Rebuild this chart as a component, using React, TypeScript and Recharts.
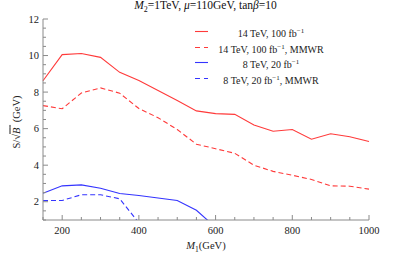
import React from "react"
import { LineChart, Line, XAxis, YAxis } from "recharts"

const masses = [150, 200, 250, 300, 350, 400, 450, 500, 550, 600, 650, 700, 750, 800, 850, 900, 950, 1000]
const lhc14 = [8.62, 10.05, 10.11, 9.9, 9.08, 8.63, 8.09, 7.54, 6.97, 6.82, 6.78, 6.2, 5.86, 5.95, 5.42, 5.72, 5.56, 5.3]
const lhc14Mmwr = [7.26, 7.09, 7.95, 8.23, 7.94, 7.1, 6.6, 5.95, 5.15, 4.9, 4.65, 4.0, 3.66, 3.45, 3.22, 2.87, 2.85, 2.69]
const lhc8 = [2.47, 2.87, 2.92, 2.74, 2.45, 2.34, 2.2, 2.07, 1.53, 0.6, null, null, null, null, null, null, null, null]
const lhc8Mmwr = [2.07, 2.07, 2.38, 2.38, 2.16, 0.84, null, null, null, null, null, null, null, null, null, null, null, null]

const xTicks = [150, 200, 250, 300, 350, 400, 450, 500, 550, 600, 650, 700, 750, 800, 850, 900, 950, 1000]
const yTicks = [1, 1.5, 2, 2.5, 3, 3.5, 4, 4.5, 5, 5.5, 6, 6.5, 7, 7.5, 8, 8.5, 9, 9.5, 10, 10.5, 11, 11.5, 12]

const RED = "#ff3a3a"
const BLUE = "#3434ff"
const FRAME = "#8a8a8a"
const FONT = "'Liberation Serif', 'DejaVu Serif', serif"

const series = [
  { key: "lhc14", energy: "14 TeV, 100 fb", extra: "", color: RED, dash: undefined },
  { key: "lhc14Mmwr", energy: "14 TeV, 100 fb", extra: ", MMWR", color: RED, dash: "5 3" },
  { key: "lhc8", energy: "8 TeV, 20 fb", extra: "", color: BLUE, dash: undefined },
  { key: "lhc8Mmwr", energy: "8 TeV, 20 fb", extra: ", MMWR", color: BLUE, dash: "5 3" },
]

const data = masses.map((m, i) => ({
  m,
  lhc14: lhc14[i],
  lhc14Mmwr: lhc14Mmwr[i],
  lhc8: lhc8[i],
  lhc8Mmwr: lhc8Mmwr[i],
}))

const labelStyle = { fontFamily: FONT, fontSize: 10.5 }

const BottomTick = (props: any) => {
  const { x, y, payload } = props
  const major = payload.value % 200 === 0
  return (
    <g>
      <line x1={x} y1={y} x2={x} y2={y - (major ? 5 : 3)} stroke={FRAME} />
      {major && (
        <text x={x} y={y + 14} textAnchor="middle" style={labelStyle} fill="#222">
          {payload.value}
        </text>
      )}
    </g>
  )
}

const TopTick = (props: any) => {
  const { x, y, payload } = props
  const major = payload.value % 200 === 0
  return <line x1={x} y1={y} x2={x} y2={y + (major ? 5 : 3)} stroke={FRAME} />
}

const LeftTick = (props: any) => {
  const { x, y, payload } = props
  const major = payload.value % 2 === 0
  return (
    <g>
      <line x1={x} y1={y} x2={x + (major ? 5 : 3)} y2={y} stroke={FRAME} />
      {major && (
        <text x={x - 4} y={y + 3.5} textAnchor="end" style={labelStyle} fill="#222">
          {payload.value}
        </text>
      )}
    </g>
  )
}

const RightTick = (props: any) => {
  const { x, y, payload } = props
  const major = payload.value % 2 === 0
  return <line x1={x} y1={y} x2={x - (major ? 5 : 3)} y2={y} stroke={FRAME} />
}

export default function App() {
  return (
    <div style={{ position: "absolute", left: 0, top: 0, width: 415, height: 259, fontFamily: FONT, background: "#fff" }}>
      <LineChart width={415} height={259} data={data} margin={{ top: 19, right: 46, bottom: 0, left: 0 }} style={{ fontFamily: FONT }}>
        <XAxis
          xAxisId="b"
          dataKey="m"
          type="number"
          domain={[150, 1000]}
          ticks={xTicks}
          interval={0}
          height={39}
          tickSize={0}
          tickMargin={0}
          tickLine={false}
          stroke={FRAME}
          tick={<BottomTick />}
        />
        <XAxis
          xAxisId="t"
          dataKey="m"
          type="number"
          orientation="top"
          domain={[150, 1000]}
          ticks={xTicks}
          interval={0}
          height={0}
          tickSize={0}
          tickMargin={0}
          tickLine={false}
          stroke={FRAME}
          tick={<TopTick />}
        />
        <YAxis
          yAxisId="l"
          type="number"
          domain={[1, 12]}
          ticks={yTicks}
          interval={0}
          width={43}
          tickSize={0}
          tickMargin={0}
          tickLine={false}
          allowDataOverflow
          stroke={FRAME}
          tick={<LeftTick />}
        />
        <YAxis
          yAxisId="r"
          orientation="right"
          type="number"
          domain={[1, 12]}
          ticks={yTicks}
          interval={0}
          width={0}
          tickSize={0}
          tickMargin={0}
          tickLine={false}
          stroke={FRAME}
          tick={<RightTick />}
        />
        {series.map((s) => (
          <Line
            key={s.key}
            xAxisId="b"
            yAxisId="l"
            type="linear"
            dataKey={s.key}
            stroke={s.color}
            strokeWidth={1.1}
            strokeDasharray={s.dash}
            dot={false}
            activeDot={false}
            connectNulls={false}
            isAnimationActive={false}
          />
        ))}
      </LineChart>

      <div style={{ position: "absolute", top: -1, left: 0, width: 411, textAlign: "center", fontSize: 11.5, color: "#111" }}>
        <i>M</i><sub style={{ fontSize: 8 }}>2</sub>=1TeV, <i>μ</i>=110GeV, tan<i>β</i>=10
      </div>

      <div style={{ position: "absolute", left: 182, top: 24, width: 160, fontSize: 10, color: "#222" }}>
        {series.map((s) => (
          <div key={s.key} style={{ position: "relative", height: 15.5, lineHeight: "15.5px" }}>
            <svg width={16} height={15} style={{ position: "absolute", left: 12, top: 0 }}>
              <line x1={1} y1={7.5} x2={14} y2={7.5} stroke={s.color} strokeWidth={1.1} strokeDasharray={s.dash ? "5 4" : undefined} />
            </svg>
            <div style={{ position: "absolute", left: 30, width: 118, textAlign: "center", whiteSpace: "nowrap" }}>
              {s.energy}
              <sup style={{ fontSize: 7, verticalAlign: "4px" }}>−1</sup>
              {s.extra}
            </div>
          </div>
        ))}
      </div>

      <div
        style={{
          position: "absolute",
          left: 16,
          top: 122,
          transform: "translate(-50%, -50%) rotate(-90deg)",
          fontSize: 10.5,
          whiteSpace: "nowrap",
          color: "#222",
        }}
      >
        S/√<span style={{ textDecoration: "overline" }}><i>B</i>&nbsp;</span> (GeV)
      </div>

      <div style={{ position: "absolute", left: 0, width: 412, top: 240, textAlign: "center", fontSize: 10.5, color: "#222" }}>
        <i>M</i><sub style={{ fontSize: 7.5 }}>1</sub>(GeV)
      </div>
    </div>
  )
}
